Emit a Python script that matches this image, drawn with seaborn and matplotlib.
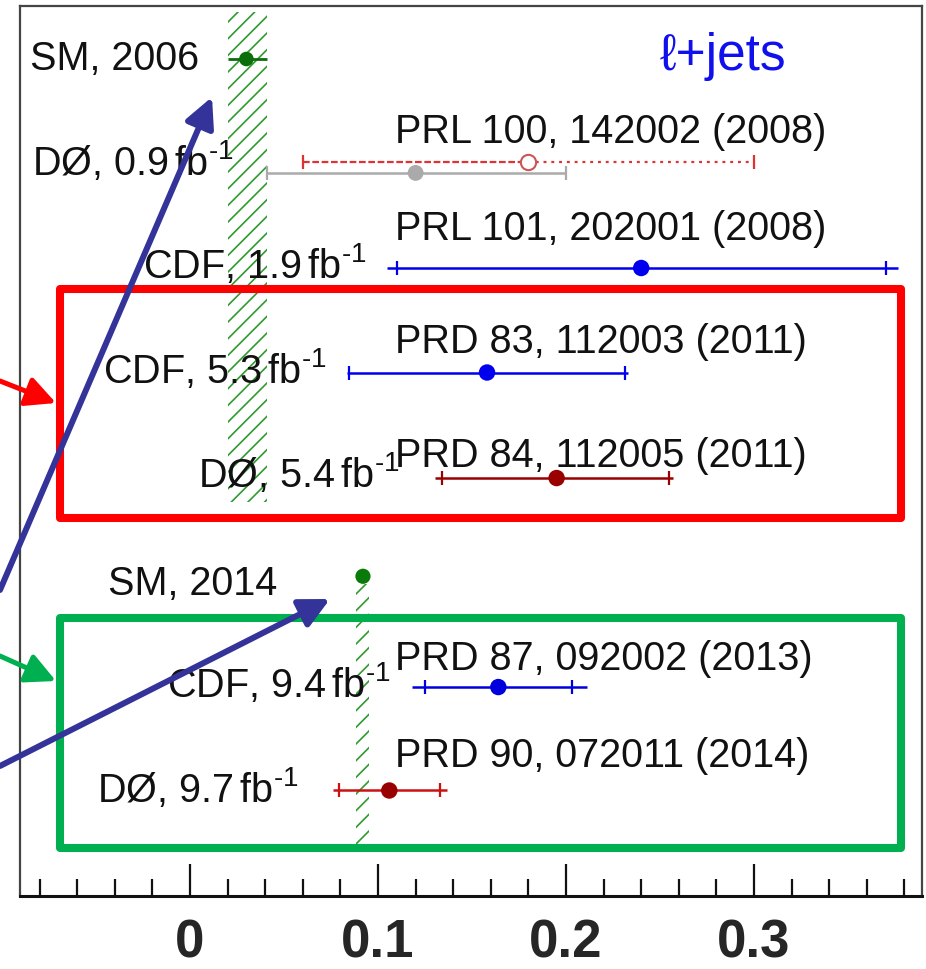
import matplotlib
matplotlib.use("Agg")
import matplotlib.pyplot as plt
import seaborn as sns
import pandas as pd
import numpy as np
from matplotlib.patches import Rectangle, FancyArrowPatch

# ---------------- data ----------------
point_ids = ["sm06", "d0_09_a", "d0_09_b", "cdf19", "cdf53", "d054", "sm14", "cdf94", "d097"]
afb_value = [0.030, 0.180, 0.120, 0.240, 0.158, 0.195, 0.092, 0.164, 0.106]
row_pos   = [0.0, 0.985, 1.09, 2.0, 3.0, 4.01, 4.95, 6.01, 7.0]
stat_lo   = [0.020, 0.060, 0.041, 0.110, 0.0848, 0.134, np.nan, 0.125, 0.079]
stat_hi   = [0.041, 0.300, 0.200, 0.370, 0.2314, 0.255, np.nan, 0.2034, 0.133]
tot_lo    = [0.020, 0.060, 0.041, 0.1046, 0.0833, 0.1303, np.nan, 0.118, 0.0762]
tot_hi    = [0.041, 0.300, 0.200, 0.3768, 0.233, 0.257, np.nan, 0.2113, 0.1365]

sm_band_lo = [0.020, 0.0883]
sm_band_hi = [0.041, 0.0952]

left_labels = ["SM, 2006", r"DØ, 0.9$\,$fb$^{\text{-1}}$", r"CDF, 1.9$\,$fb$^{\text{-1}}$",
               r"CDF, 5.3$\,$fb$^{\text{-1}}$", r"DØ, 5.4$\,$fb$^{\text{-1}}$", "SM, 2014",
               r"CDF, 9.4$\,$fb$^{\text{-1}}$", r"DØ, 9.7$\,$fb$^{\text{-1}}$"]
ref_labels = ["PRL 100, 142002 (2008)", "PRL 101, 202001 (2008)",
              "PRD 83, 112003 (2011)", "PRD 84, 112005 (2011)",
              "PRD 87, 092002 (2013)", "PRD 90, 072011 (2014)"]
channel_label = "ℓ+jets"
tick_values = [0.0, 0.1, 0.2, 0.3]
tick_labels = ["0", "0.1", "0.2", "0.3"]

# ---------------- styles / layout ----------------
W, H = 926, 970
colors = {"sm06": "#0a6e0a", "d0_09_a": "#dd3333", "d0_09_b": "#aaaaaa",
          "cdf19": "#0000ee", "cdf53": "#0000ee", "d054": "#990000",
          "sm14": "#0a7a0a", "cdf94": "#0000dd", "d097": "#cc1111"}
marker_colors = dict(colors, d097="#990000")
marker_size = {"sm06": 110, "d0_09_b": 130, "cdf19": 140, "cdf53": 140,
               "d054": 140, "sm14": 120, "cdf94": 140, "d097": 140}
band_rows = [(-0.45, 4.24), (5.02, 7.51)]
# label anchor positions in figure pixels (x, baseline y)
left_label_px = [(30, 70), (32, 175), (143, 278), (103, 383), (198, 487),
                 (108, 595), (167, 697), (97, 802)]
ref_label_px = [(395, 143), (395, 240), (395, 353), (395, 467), (395, 670), (395, 767)]

sns.set_theme(style="white")
plt.rcParams["font.family"] = ["Liberation Sans", "DejaVu Sans"]
plt.rcParams["mathtext.fontset"] = "custom"
plt.rcParams["mathtext.rm"] = "Liberation Sans"
plt.rcParams["mathtext.default"] = "regular"
plt.rcParams["hatch.linewidth"] = 1.2

fig = plt.figure(figsize=(W / 100, H / 100), dpi=100)
ax = fig.add_axes([20 / W, 1 - 897 / H, (922 - 20) / W, (897 - 7) / H])

X0, XS = 190.0, 1880.0     # pixel of x=0, pixels per unit
Y0, YS = 60.0, 104.5       # pixel of row 0, pixels per row
ax.set_xlim((20 - X0) / XS, (922 - X0) / XS)
ax.set_ylim((897 - Y0) / YS, (7 - Y0) / YS)

def px2data(px, py):
    return (px - X0) / XS, (py - Y0) / YS

# SM hatched bands
for lo, hi, (r0, r1) in zip(sm_band_lo, sm_band_hi, band_rows):
    ax.add_patch(Rectangle((lo, r0), hi - lo, r1 - r0, fill=False, hatch="//",
                           edgecolor="#2f9a2f", linewidth=0, zorder=1))

# error bars
for i, pid in enumerate(point_ids):
    if np.isnan(stat_lo[i]):
        continue
    c = colors[pid]
    y = row_pos[i]
    if pid == "sm06":
        ax.hlines(y, tot_lo[i], tot_hi[i], color=c, lw=2.0, zorder=3)
        continue
    if pid == "d0_09_a":
        ax.hlines(y, tot_lo[i], afb_value[i], color=c, lw=1.6,
                  linestyles=(0, (3.0, 1.2)), zorder=3)
        ax.hlines(y, afb_value[i], tot_hi[i], color=c, lw=1.6,
                  linestyles=(0, (1.3, 2.2)), zorder=3)
    else:
        ax.hlines(y, tot_lo[i], tot_hi[i], color=c, lw=1.8, zorder=3)
    ax.plot([stat_lo[i], stat_hi[i]], [y, y], ls="none", marker="|",
            ms=9.5, mew=1.6, color=c, zorder=3)

# markers via seaborn
df = pd.DataFrame({"afb": afb_value, "row": row_pos, "id": point_ids})
filled = df[df["id"] != "d0_09_a"]
sns.scatterplot(data=filled, x="afb", y="row", hue="id", size="id",
                palette=marker_colors, sizes=marker_size, marker="o",
                linewidth=0, legend=False, ax=ax, zorder=4)
open_pt = df[df["id"] == "d0_09_a"]
ax.plot(open_pt["afb"], open_pt["row"], ls="none", marker="o", ms=11,
        mfc="white", mec="#cc5555", mew=1.5, zorder=4)

# text labels
for txt, (px, py) in zip(left_labels, left_label_px):
    x, y = px2data(px, py)
    ax.text(x, y, txt, fontsize=28.5, va="baseline", ha="left", color="#111111", zorder=5)
for txt, (px, py) in zip(ref_labels, ref_label_px):
    x, y = px2data(px, py)
    ax.text(x, y, txt, fontsize=28.5, va="baseline", ha="left", color="#111111", zorder=5)
x, y = px2data(660, 70)
ax.text(x, y, channel_label, fontsize=37, va="baseline", ha="left", color="#1010ee", zorder=5)

# axes styling
ax.set_xticks(tick_values)
ax.set_xticklabels(tick_labels, fontsize=38, fontweight="bold")
ax.set_xticks(np.arange(-0.08, 0.381, 0.02), minor=True)
ax.set_yticks([])
ax.tick_params(axis="x", which="major", direction="in", length=23, width=1.6,
               color="#111111", pad=15.5, bottom=True)
ax.tick_params(axis="x", which="minor", direction="in", length=12, width=1.6,
               color="#111111", bottom=True)
for side in ["left", "top", "right"]:
    ax.spines[side].set_color("#444444")
    ax.spines[side].set_linewidth(1.6)
ax.spines["bottom"].set_color("#111111")
ax.spines["bottom"].set_linewidth(2.2)
ax.set_xlabel("")
ax.set_ylabel("")

# annotation boxes and arrows (figure pixels)
def fp(x, y):
    return (x / W, 1 - y / H)

for (x0, y0, x1, y1, c) in [(60, 290, 901, 519, "#ff0000"), (60, 619, 901, 849, "#00b050")]:
    a, b = fp(x0, y1)
    wdt = (x1 - x0) / W
    hgt = (y1 - y0) / H
    fig.add_artist(Rectangle((a, b), wdt, hgt, transform=fig.transFigure,
                             fill=False, edgecolor=c, linewidth=5.8,
                             joinstyle="round", zorder=8))

arrows = [((0, 382), (56, 404), "#ff0000", 3.6),
          ((0, 657), (56, 682), "#00b050", 3.6),
          ((0, 591), (212, 98), "#333399", 4.3),
          ((0, 767), (330, 600), "#333399", 4.3)]
for (t, h, c, lw) in arrows:
    fig.add_artist(FancyArrowPatch(fp(*t), fp(*h), transform=fig.transFigure,
                                   arrowstyle="-|>,head_length=0.9,head_width=0.45",
                                   mutation_scale=20, color=c, linewidth=lw,
                                   shrinkA=0, shrinkB=0, zorder=9))

fig.savefig("out.png", dpi=100)
